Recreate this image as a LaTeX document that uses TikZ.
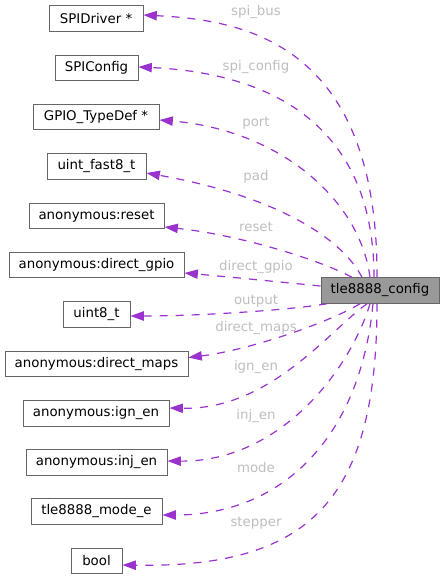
\documentclass[tikz,border=0pt]{standalone}
\usepackage{fontspec}
\setmainfont{DejaVu Sans}
\usetikzlibrary{arrows.meta,calc}
\definecolor{edgec}{HTML}{9A32CD}
\definecolor{boxc}{HTML}{666666}
\definecolor{mainfill}{HTML}{999999}
\definecolor{labc}{HTML}{BEBEBE}
\begin{document}
\begin{tikzpicture}[x=0.75pt,y=-0.75pt,
  box/.style={draw=boxc, line width=0.75pt, fill=white, minimum height=19.1pt, inner sep=0pt, font=\fontsize{10}{12}\selectfont, text=black},
  mainbox/.style={box, fill=mainfill},
  rel/.style={draw=edgec, line width=0.9pt, dash pattern=on 6pt off 6pt, -{Triangle[length=10pt,width=7pt]}},
  lab/.style={text=labc, font=\fontsize{10}{12}\selectfont, inner sep=0pt, text height=7.5pt, text depth=2.5pt}]
\useasboundingbox (0,0) rectangle (444,579);
% nodes
\node[mainbox, minimum width=88.5pt] (main) at (380,290.5) {tle8888\_config};
\node[box, minimum width=70.5pt] (spid) at (96,18.5) {SPIDriver *};
\node[box, minimum width=62.25pt] (spic) at (96.5,68) {SPIConfig};
\node[box, minimum width=94.5pt] (gpio) at (96,117) {GPIO\_TypeDef *};
\node[box, minimum width=74.25pt] (uf8) at (96.5,166.5) {uint\_fast8\_t};
\node[box, minimum width=101.25pt] (reset) at (96.5,216) {anonymous:reset};
\node[box, minimum width=131.25pt] (dgpio) at (96.5,265) {anonymous:direct\_gpio};
\node[box, minimum width=50.25pt] (u8) at (96.5,314.5) {uint8\_t};
\node[box, minimum width=137.25pt] (dmaps) at (96.5,364) {anonymous:direct\_maps};
\node[box, minimum width=109.5pt] (ign) at (96,413.5) {anonymous:ign\_en};
\node[box, minimum width=105.75pt] (inj) at (96.5,462.5) {anonymous:inj\_en};
\node[box, minimum width=98.25pt] (mode) at (96.5,511.5) {tle8888\_mode\_e};
\node[box, minimum width=38.25pt] (bool) at (96.5,561) {bool};
% edges
\draw[rel] ($(main.north)+(-3,0)$) .. controls (378,40) and (240,20) .. ($(spid.east)+(0,-3.5)$);
\draw[rel] ($(main.north)+(-6,0)$) .. controls (374,110) and (250,72) .. ($(spic.east)+(0,-1)$);
\draw[rel] ($(main.north)+(-10,0)$) .. controls (360,200) and (280,130) .. ($(gpio.east)+(0,3)$);
\draw[rel] ($(main.north)+(-18,0)$) .. controls (340,235) and (270,195) .. ($(uf8.east)+(0,6.5)$);
\draw[rel] ($(main.north)+(-28,0)$) .. controls (320,260) and (240,235) .. ($(reset.east)+(0,11)$);
\draw[rel] ($(main.west)+(0,-4.5)$) .. controls (280,282) and (230,277) .. ($(dgpio.east)+(0,8)$);
\draw[rel] ($(main.south)+(-53,0)$) .. controls (290,310) and (200,316) .. ($(u8.east)+(0,1.5)$);
\draw[rel] ($(main.south)+(-20,0)$) .. controls (330,322) and (250,350) .. ($(dmaps.east)+(0,-6.5)$);
\draw[rel] ($(main.south)+(-13,0)$) .. controls (330,330) and (270,410) .. ($(ign.east)+(0,-5.5)$);
\draw[rel] ($(main.south)+(-10,0)$) .. controls (350,370) and (280,462) .. ($(inj.east)+(0,-1.5)$);
\draw[rel] ($(main.south)+(-7,0)$) .. controls (360,440) and (280,515) .. ($(mode.east)+(0,3.5)$);
\draw[rel] ($(main.south)+(-3,0)$) .. controls (377,500) and (310,568) .. ($(bool.east)+(0,4)$);
% labels
\node[lab] (l1) at (256,12) {spi\_bus};
\node[lab] (l2) at (256,67) {spi\_config};
\node[lab] (l3) at (256,123) {port};
\node[lab] (l4) at (256,177) {pad};
\node[lab] (l5) at (256,228) {reset};
\node[lab] (l6) at (256,267) {direct\_gpio};
\node[lab] (l7) at (256,301) {output};
\node[lab] (l8) at (256,328) {direct\_maps};
\node[lab] (l9) at (256,367) {ign\_en};
\node[lab] (l10) at (256,416) {inj\_en};
\node[lab] (l11) at (256,469) {mode};
\node[lab] (l12) at (256,523) {stepper};
\end{tikzpicture}
\end{document}
